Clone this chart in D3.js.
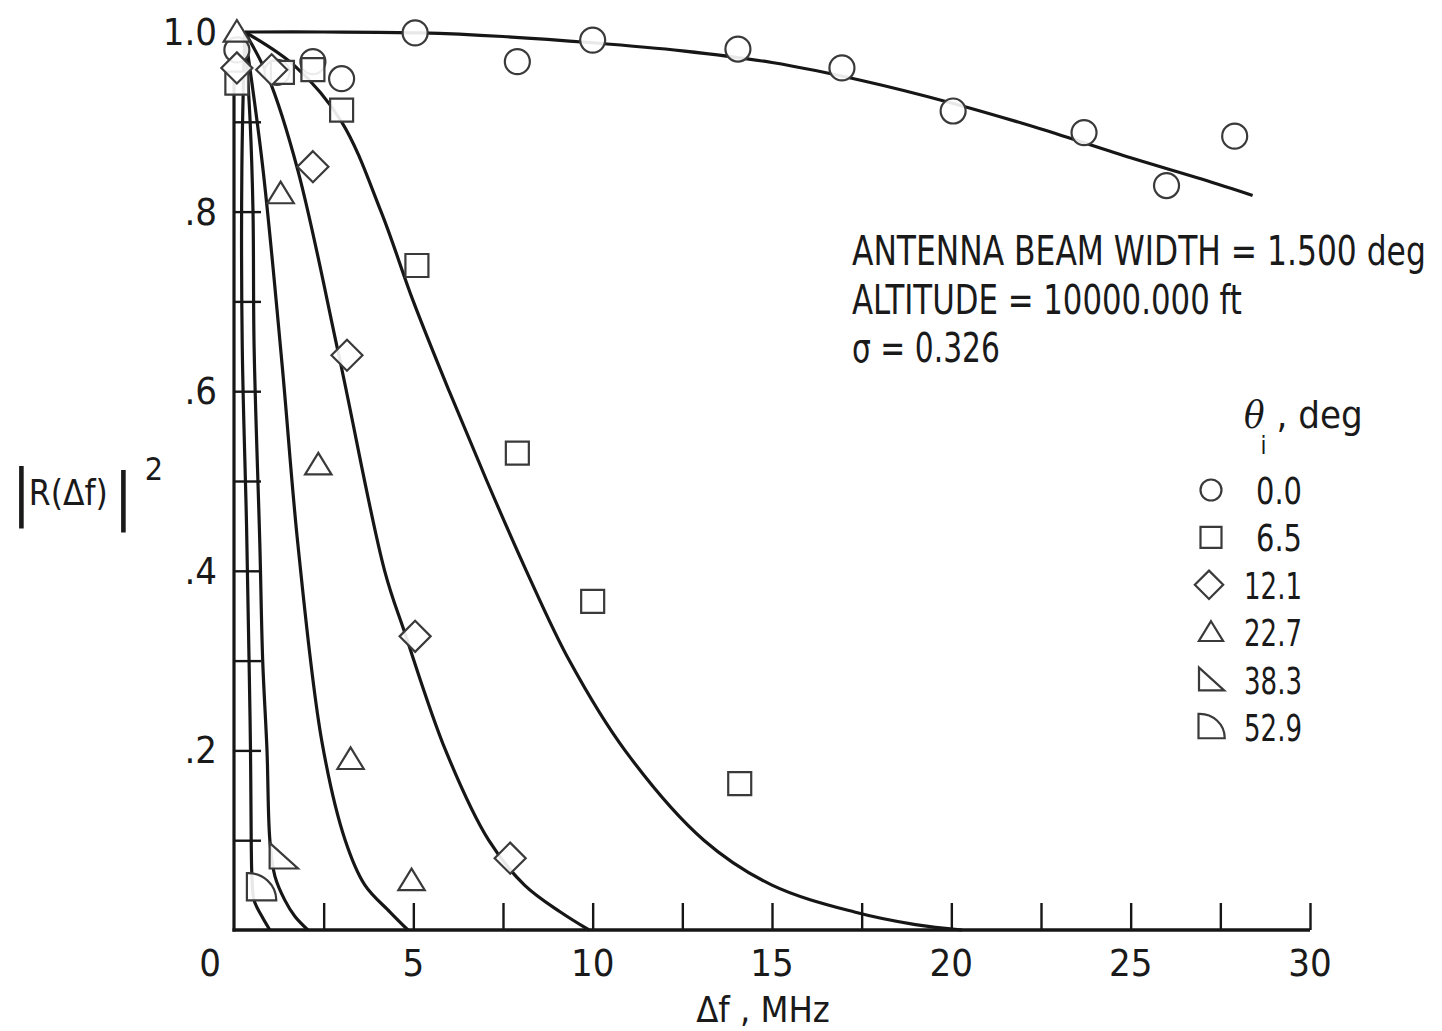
<!DOCTYPE html>
<html><head><meta charset="utf-8">
<script src="https://cdn.jsdelivr.net/npm/d3@7"></script>
<style>
body{margin:0;background:#fff;}
text{font-family:"Liberation Sans Narrow","DejaVu Sans Condensed","DejaVu Sans",sans-serif;fill:#1a1a1a;font-stretch:condensed;}
</style></head>
<body><svg id="c" width="1442" height="1031"></svg>
<script>
// ---- data ----
const seriesLabels = ["0.0","6.5","12.1","22.7","38.3","52.9"];
const xTickValues = [0,5,10,15,20,25,30];
const xMinorTicks = [2.5,5,7.5,10,12.5,15,17.5,20,22.5,25,27.5,30];
const yTickValues = [0.2,0.4,0.6,0.8,1.0];
const yTickLabels = [".2",".4",".6",".8","1.0"];
const yMinorTicks = [0.1,0.2,0.3,0.4,0.5,0.6,0.7,0.8,0.9];

// fitted curves [Δf MHz, |R|^2]
const curve0  = [[0.3,1.0],[2.5,1.0],[5.2,0.999],[7.5,0.995],[10,0.988],[12.5,0.979],[15,0.966],[17.5,0.946],[20,0.921],[22.5,0.892],[25,0.86],[27,0.836],[28.4,0.818]];
const curve65 = [[0.3,1.0],[1.7,0.962],[3.0,0.9],[4.1,0.8],[5.0,0.7],[6.0,0.6],[7.05,0.5],[8.15,0.4],[9.35,0.3],[10.9,0.2],[13.1,0.1],[15.0,0.05],[17.3,0.02],[19.0,0.006],[20.3,0.0]];
const curve121= [[0.3,1.0],[0.95,0.95],[1.78,0.846],[2.95,0.635],[4.2,0.4],[4.77,0.33],[5.9,0.2],[7.1,0.1],[8.1,0.05],[9.1,0.02],[9.9,0.0]];
const curve227= [[0.3,1.0],[0.8,0.85],[1.34,0.63],[1.78,0.43],[2.45,0.21],[3.1,0.1],[3.65,0.05],[4.35,0.02],[4.85,0.0]];
const curve383= [[0.3,1.0],[0.45,0.9],[0.53,0.8],[0.56,0.65],[0.72,0.43],[0.8,0.3],[0.92,0.2],[1.0,0.1],[1.14,0.06],[1.42,0.033],[1.7,0.015],[2.06,0.0]];
const curve529= [[0.3,1.0],[0.22,0.85],[0.23,0.65],[0.35,0.45],[0.42,0.3],[0.46,0.2],[0.48,0.1],[0.5,0.06],[0.56,0.033],[0.78,0.015],[1.0,0.0]];

// measured points
const pts0  = [[0.08,0.98],[1.2,0.955],[2.2,0.967],[3.0,0.948],[5.05,0.999],[7.9,0.967],[10.0,0.991],[14.05,0.981],[16.95,0.96],[20.05,0.912],[23.7,0.888],[26.0,0.829],[27.9,0.884]];
const pts65 = [[0.08,0.943],[1.35,0.955],[2.2,0.958],[3.0,0.913],[5.1,0.74],[7.9,0.531],[10.0,0.366],[14.1,0.163]];
const pts121= [[0.08,0.96],[1.05,0.958],[2.2,0.85],[3.15,0.64],[5.05,0.327],[7.7,0.08]];
const pts227= [[0.08,1.0],[1.3,0.82],[2.35,0.518],[3.25,0.19],[4.95,0.055]];
const pts383= [[1.37,0.082]];
const pts529= [[0.75,0.047]];

const annotations = ["ANTENNA BEAM WIDTH = 1.500 deg","ALTITUDE = 10000.000 ft","σ = 0.326"];

// ---- drawing ----
const svg = d3.select("#c");
const x = d3.scaleLinear().domain([0,30]).range([234,1310]);
const y = d3.scaleLinear().domain([0,1]).range([930,32]);
const ink = "#161616";

function shapePath(kind, s){
  const h=s/2;
  switch(kind){
    case "circle": return `M${h},0A${h},${h} 0 1,1 ${-h},0A${h},${h} 0 1,1 ${h},0Z`;
    case "square": return `M${-h},${-h}H${h}V${h}H${-h}Z`;
    case "diamond": { const d=h*1.35; return `M0,${-d}L${d},0L0,${d}L${-d},0Z`; }
    case "triangle": return `M0,${-h}L${h*1.1},${h*0.8}L${-h*1.1},${h*0.8}Z`;
    case "rtri": return `M${-h},${-h}L${h*1.1},${h*0.9}L${-h},${h*0.9}Z`;
    case "quarter": return `M${-h},${-h*1.05}A${h*2},${h*1.95} 0 0,1 ${h*1.1},${h*0.9}L${-h},${h*0.9}Z`;
  }
}
const kinds = ["circle","square","diamond","triangle","rtri","quarter"];
const curves = [curve0,curve65,curve121,curve227,curve383,curve529];
const points = [pts0,pts65,pts121,pts227,pts383,pts529];
const markerSize = [25,23,23,24,27,28];

// squeeze a text horizontally to a given width (condensed lettering)
function fitText(sel, x0, y0, w){
  sel.attr("x",0).attr("y",0);
  const nat = sel.node().getComputedTextLength();
  sel.attr("transform",`translate(${x0},${y0}) scale(${w/nat},1)`);
}

// axes (ticks pointing inward)
const xAxis = d3.axisBottom(x).tickValues(xMinorTicks).tickSize(-27).tickFormat("");
const gx = svg.append("g").attr("transform",`translate(0,${y(0)})`).call(xAxis);
gx.select(".domain").remove();
gx.selectAll(".tick line").attr("stroke",ink).attr("stroke-width",2.4);

const yAxis = d3.axisLeft(y).tickValues(yMinorTicks).tickSize(-27).tickFormat("");
const gy = svg.append("g").attr("transform",`translate(${x(0)},0)`).call(yAxis);
gy.select(".domain").remove();
gy.selectAll(".tick line").attr("stroke",ink).attr("stroke-width",2.4);

svg.append("line").attr("x1",x(0)-1.5).attr("x2",x(30)).attr("y1",y(0)).attr("y2",y(0)).attr("stroke",ink).attr("stroke-width",3.5);
svg.append("line").attr("x1",x(0)).attr("x2",x(0)).attr("y1",y(0)+1.5).attr("y2",y(0.95)).attr("stroke",ink).attr("stroke-width",3.2);

// tick labels
svg.append("g").selectAll("text").data(xTickValues).join("text")
  .attr("x",d=>x(d)+(d===0?-24:0)).attr("y",y(0)+46)
  .attr("text-anchor","middle").attr("font-size",38).text(d=>d);
svg.append("g").selectAll("text").data(yTickValues).join("text")
  .attr("x",217).attr("y",d=>y(d)+13)
  .attr("text-anchor","end").attr("font-size",38).text((d,i)=>yTickLabels[i]);

// axis titles
svg.append("text").attr("x",763).attr("y",1022).attr("text-anchor","middle").attr("font-size",36).text("Δf , MHz");
const yl = svg.append("text").attr("x",12).attr("y",513);
yl.append("tspan").attr("font-size",62).attr("font-weight",100).text("|");
yl.append("tspan").attr("font-size",35).attr("dy",-8).attr("dx",-2).text("R(Δf)");
yl.append("tspan").attr("font-size",62).attr("font-weight",100).attr("dy",12).attr("dx",6).text("|");
yl.append("tspan").attr("font-size",32).attr("dy",-37).attr("dx",12).text("2");

// curves
const line = d3.line().x(d=>x(d[0])).y(d=>y(d[1])).curve(d3.curveCatmullRom.alpha(0.5));
svg.append("g").selectAll("path").data(curves).join("path")
  .attr("d",line).attr("fill","none").attr("stroke",ink).attr("stroke-width",3.2);

// markers
points.forEach((pts,i)=>{
  svg.append("g").selectAll("path").data(pts).join("path")
    .attr("transform",d=>`translate(${x(d[0])},${y(d[1])})`)
    .attr("d",shapePath(kinds[i],markerSize[i]))
    .attr("fill","#fff").attr("fill-opacity",0.9).attr("stroke","#3a3a3a").attr("stroke-width",2.2);
});

// annotation block
const annW = [574,390,148];
annotations.forEach((t,i)=>{
  const s = svg.append("text").attr("font-size",40).text(t);
  fitText(s, 852, 265+i*48.5, annW[i]);
});

// legend
const lg = svg.append("g");
const lt = lg.append("text").attr("x",1244).attr("y",428).attr("font-size",38);
lt.append("tspan").attr("font-style","italic").attr("font-family","DejaVu Serif, serif").text("θ");
lt.append("tspan").attr("font-size",24).attr("dy",26).attr("dx",-4).text("i");
lt.append("tspan").attr("dy",-26).attr("dx",10).text(", deg");
const legY = d3.scaleLinear().domain([0,5]).range([490,727]);
const legSize = [21,21,21,22,24,25];
const legW = [46,46,58,58,58,58];
seriesLabels.forEach((lab,i)=>{
  lg.append("path").attr("transform",`translate(${i===2?1209:1211},${legY(i)})`)
    .attr("d",shapePath(kinds[i],legSize[i])).attr("fill","none").attr("stroke","#3a3a3a").attr("stroke-width",2.2);
  const s = lg.append("text").attr("font-size",37).text(lab);
  fitText(s, 1302-legW[i], legY(i)+14, legW[i]);
});
</script></body></html>
